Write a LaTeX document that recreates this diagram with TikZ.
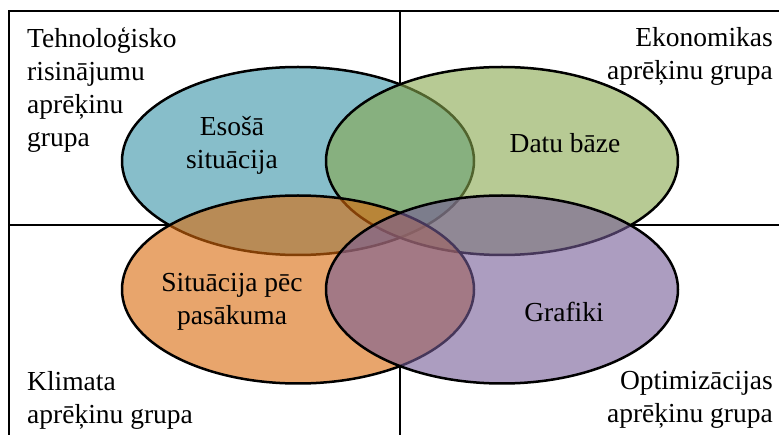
\documentclass[tikz,border=0pt]{standalone}
\usepackage{fontspec}
\setmainfont{Liberation Serif}
\definecolor{cblue}{RGB}{55,147,168}
\definecolor{cgreen}{RGB}{135,167,77}
\definecolor{corange}{RGB}{217,105,10}
\definecolor{cpurple}{RGB}{118,92,150}
\tikzset{
  frameline/.style={line width=2.5pt, draw=black},
  venn/.style={line width=2.5pt, draw=black, fill opacity=0.6},
  grouplbl/.style={font=\rmfamily\fontsize{27.5}{33.2}\selectfont, inner sep=0pt},
  setlbl/.style={font=\rmfamily\fontsize{27.5}{33.2}\selectfont, inner sep=0pt, align=center},
}
\begin{document}
\begin{tikzpicture}[x=1pt,y=-1pt]
\useasboundingbox (0,0) rectangle (779,435);
% frame coordinates
\coordinate (tl) at (9,11);
\coordinate (tr) at (779,11);
\coordinate (bl) at (9,435);
\coordinate (vt) at (400,11);
\coordinate (vb) at (400,435);
\coordinate (hl) at (9,225);
\coordinate (hr) at (779,225);
\draw[frameline] (bl) -- (tl) -- (tr);
\draw[frameline] (vt) -- (vb);
\draw[frameline] (hl) -- (hr);
% opaque white under-layer hides the frame lines
\fill[white] (298,161) ellipse [x radius=176pt, y radius=94pt];
\fill[white] (502,161) ellipse [x radius=176pt, y radius=94pt];
\fill[white] (298,289.5) ellipse [x radius=176pt, y radius=94pt];
\fill[white] (502,289.5) ellipse [x radius=176pt, y radius=94pt];
% ellipses
\path[venn, fill=cblue] (298,161) ellipse [x radius=176pt, y radius=94pt];
\path[venn, fill=cgreen] (502,161) ellipse [x radius=176pt, y radius=94pt];
\path[venn, fill=corange] (298,289.5) ellipse [x radius=176pt, y radius=94pt];
\path[venn, fill=cpurple] (502,289.5) ellipse [x radius=176pt, y radius=94pt];
% set labels
\node[setlbl] (esosa) at (232,145) {Esošā\\situācija};
\node[setlbl] (datu) at (565,143) {Datu bāze};
\node[setlbl] (pec) at (232,302) {Situācija pēc\\pasākuma};
\node[setlbl] (graf) at (564,312) {Grafiki};
% group labels
\node[grouplbl, align=left, anchor=north west] (tehn) at (27,27) {Tehnoloģisko\\risinājumu\\aprēķinu\\grupa};
\node[grouplbl, align=right, anchor=north east] (ekon) at (773,27) {Ekonomikas\\aprēķinu grupa};
\node[grouplbl, align=left, anchor=north west] (klim) at (27,371) {Klimata\\aprēķinu grupa};
\node[grouplbl, align=right, anchor=north east] (opt) at (773,371) {Optimizācijas\\aprēķinu grupa};
\end{tikzpicture}
\end{document}
